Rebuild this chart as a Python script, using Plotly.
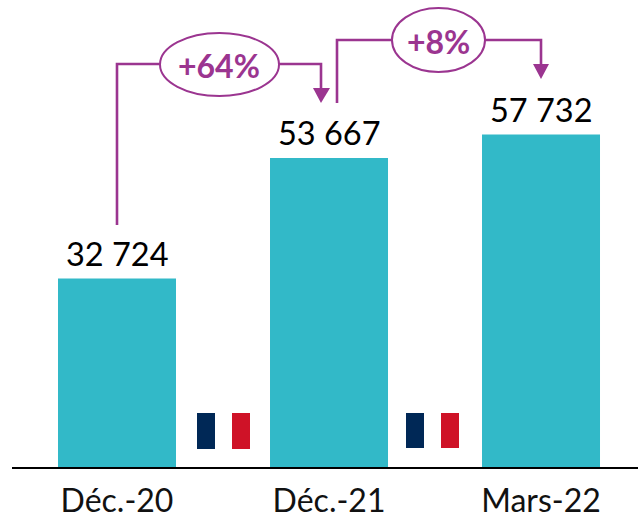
import plotly.graph_objects as go

categories = ["Déc.-20", "Déc.-21", "Mars-22"]
values = [32724, 53667, 57732]
value_labels = ["32 724", "53 667", "57 732"]
growth_labels = ["+64%", "+8%"]

TEAL = "#32B9C8"
PURPLE = "#9B3590"
NAVY = "#002856"
RED = "#CF1227"
FONT = "Lato"
W, H = 638, 518
L, B = 12, 51
PW, PH = W - L, H - B


def X(px):
    return (px - L) / PW


def Y(py):
    return (H - B - py) / PH


def rect(x0, y0, x1, y1, color):
    return dict(type="rect", xref="paper", yref="paper", x0=X(x0), x1=X(x1), y0=Y(y0), y1=Y(y1),
                fillcolor=color, line_width=0, layer="above")


def poly(points, color=None, width=2.6):
    d = "M " + " L ".join(f"{X(a):.5f},{Y(b):.5f}" for a, b in points)
    s = dict(type="path", xref="paper", yref="paper", path=d + (" Z" if color else ""), layer="above")
    if color:
        s.update(fillcolor=color, line_width=0)
    else:
        s.update(line=dict(color=PURPLE, width=width))
    return s


def ellipse(x0, y0, x1, y1):
    return dict(type="circle", xref="paper", yref="paper", x0=X(x0), x1=X(x1), y0=Y(y0), y1=Y(y1),
                fillcolor="white", line=dict(color=PURPLE, width=2), layer="above")


shapes = [
    poly([(117, 225), (117, 64), (160, 64)]),
    poly([(279, 64), (321, 64), (321, 90)]),
    poly([(313, 88), (330, 88), (321, 103)], PURPLE),
    ellipse(160, 33, 279, 96),
    poly([(337, 103), (337, 40), (392, 40)]),
    poly([(485, 40), (541, 40), (541, 66)]),
    poly([(533, 64), (549, 64), (541, 79)], PURPLE),
    ellipse(392, 8, 485, 72),
    rect(197, 413, 215, 449, NAVY),
    rect(232, 413, 250, 449, RED),
    rect(406, 413, 424, 448, NAVY),
    rect(441, 413, 459, 448, RED),
]

annotations = [
    dict(xref="paper", yref="paper", x=X(px), y=Y(py), text=f"<b>{t}</b>", showarrow=False,
         xanchor="center", yanchor="middle", font=dict(family=FONT, size=32, color=PURPLE))
    for t, px, py in zip(growth_labels, (219, 438), (65, 41))
]
annotations += [
    dict(x=i, y=v, text=t, showarrow=False, xanchor="center", yanchor="bottom", yshift=4,
         font=dict(family=FONT, size=32.5, color="black"))
    for i, (v, t) in enumerate(zip(values, value_labels))
]

fig = go.Figure(go.Bar(
    x=[0, 1, 2], y=values, marker=dict(color=TEAL, line_width=0), width=0.5566,
))
fig.update_layout(
    width=W, height=H, margin=dict(l=L, r=0, t=0, b=B, autoexpand=False),
    paper_bgcolor="white", plot_bgcolor="white", showlegend=False,
    shapes=shapes, annotations=annotations,
    xaxis=dict(range=[-0.4953, 2.4575], tickmode="array", tickvals=[0, 1, 2], ticktext=categories,
               showgrid=False, zeroline=False, showline=True, linecolor="black", linewidth=2, ticks="",
               tickfont=dict(family=FONT, size=32, color="#111111"), ticklabelstandoff=5),
    yaxis=dict(range=[0, 81100], visible=False, showgrid=False, zeroline=False),
)
fig.write_html("out.html", config=dict(displayModeBar=False),
               post_script="document.body.style.margin='0';document.documentElement.style.overflow='hidden';")
